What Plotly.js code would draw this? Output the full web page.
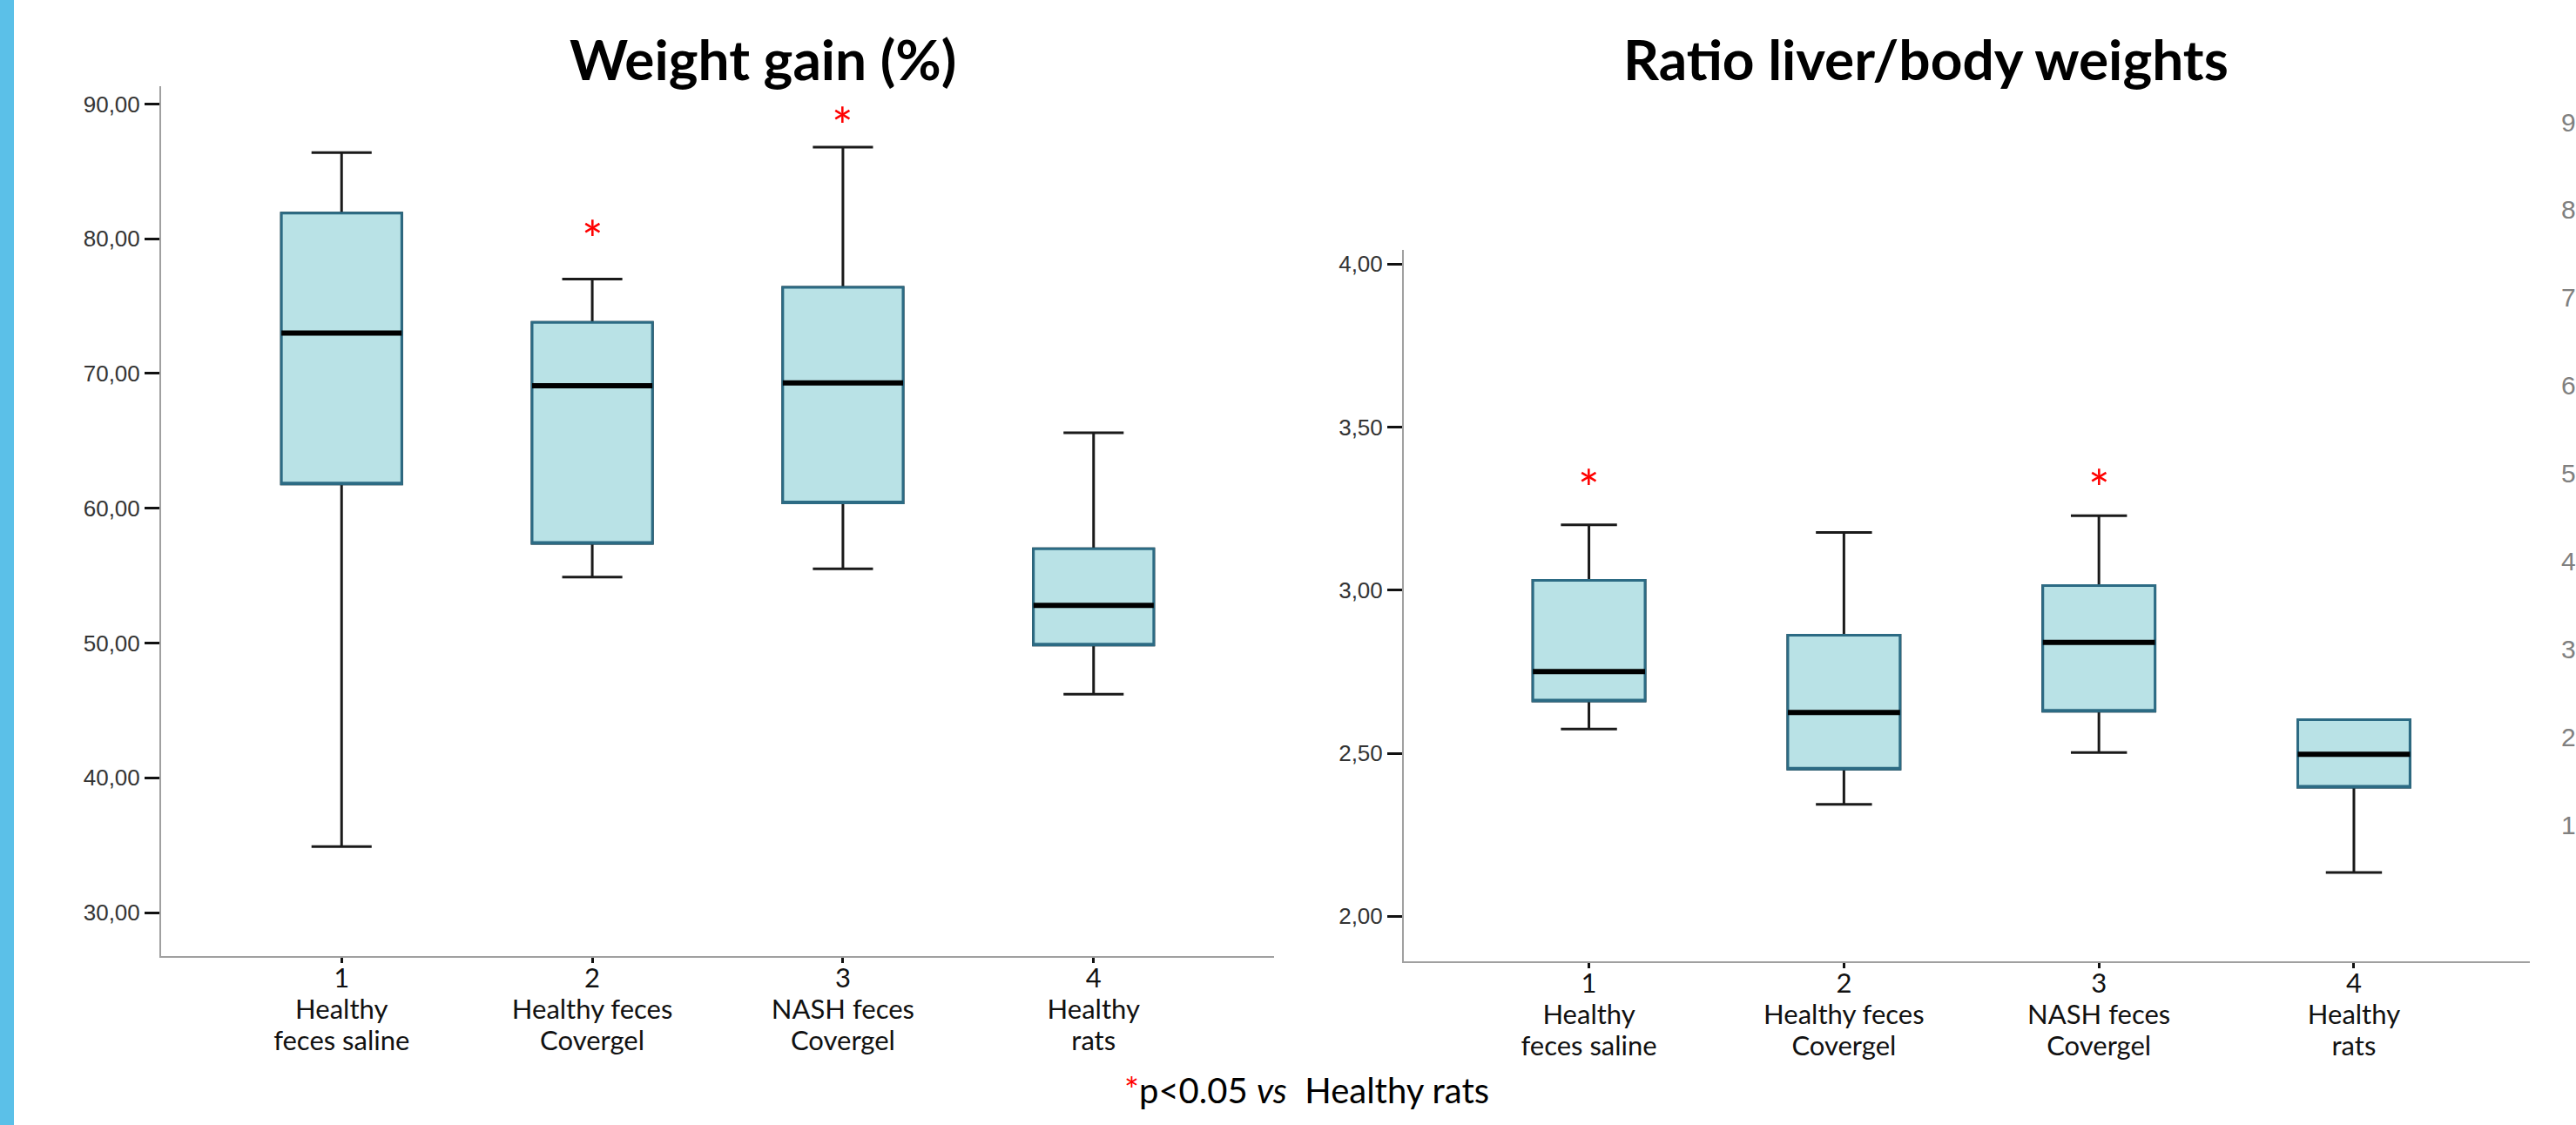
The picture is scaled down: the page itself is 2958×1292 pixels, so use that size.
<!DOCTYPE html>
<html>
<head>
<meta charset="utf-8">
<script src="https://cdn.plot.ly/plotly-3.0.1.min.js"></script>
<style>
  html, body { margin: 0; padding: 0; background: #ffffff; }
  #chart { width: 2958px; height: 1292px; }
</style>
</head>
<body>
<div id="chart"></div>
<script>
// ---------- data ----------
var groupPositions = [1, 2, 3, 4];
var tickNumbers = ['1', '2', '3', '4'];
var groupLine1 = ['Healthy', 'Healthy feces', 'NASH feces', 'Healthy'];
var groupLine2 = ['feces saline', 'Covergel', 'Covergel', 'rats'];

// Weight gain (%)
var wgLower  = [34.9, 54.9, 55.5, 46.2];
var wgQ1     = [61.8, 57.4, 60.4, 49.85];
var wgMedian = [73.0, 69.1, 69.3, 52.8];
var wgQ3     = [81.9, 73.8, 76.4, 57.0];
var wgUpper  = [86.4, 77.0, 86.8, 65.6];
var wgStarX  = [2, 3];
var wgStarY  = [80.8, 89.2];
var wgTickVals = [30, 40, 50, 60, 70, 80, 90];
var wgTickText = ['30,00', '40,00', '50,00', '60,00', '70,00', '80,00', '90,00'];

// Ratio liver/body weights
var rLower  = [2.574, 2.343, 2.502, 2.134];
var rQ1     = [2.66, 2.451, 2.629, 2.396];
var rMedian = [2.75, 2.625, 2.84, 2.497];
var rQ3     = [3.03, 2.862, 3.014, 2.603];
var rUpper  = [3.20, 3.177, 3.228, 2.603];
var rStarX  = [1, 3];
var rStarY  = [3.347, 3.347];
var rTickVals = [2.0, 2.5, 3.0, 3.5, 4.0];
var rTickText = ['2,00', '2,50', '3,00', '3,50', '4,00'];

// cut-off axis of a third panel at the right edge
var thirdTickVals = [1, 2, 3, 4, 5, 6, 7, 8, 9];
var thirdTickText = ['1', '2', '3', '4', '5', '6', '7', '8', '9'];

// ---------- styling ----------
var FILL = '#B9E2E6';
var OUTLINE = '#2C6B84';
var DARK = '#1a1a1a';
var LABEL_SPAN = '<span style="font-size:31px">';
var STAR_SIZE = 58;

var catText = groupPositions.map(function (p, i) {
  return LABEL_SPAN + tickNumbers[i] + '</span><br>' +
         LABEL_SPAN + groupLine1[i] + '</span><br>' +
         LABEL_SPAN + groupLine2[i] + '</span>';
});

function boxSet(xa, ya, lower, q1, med, q3, upper, w) {
  var common = { type: 'box', x: groupPositions, xaxis: xa, yaxis: ya, width: w,
                 boxpoints: false, hoverinfo: 'skip', showlegend: false };
  var whiskers = Object.assign({}, common, {
    q1: q1, median: med, q3: q3, lowerfence: lower, upperfence: upper,
    whiskerwidth: 0.5, fillcolor: 'rgba(0,0,0,0)', line: { color: DARK, width: 3 }
  });
  var box = Object.assign({}, common, {
    q1: q1, median: q1, q3: q3, lowerfence: q1, upperfence: q3,
    whiskerwidth: 0, fillcolor: FILL, line: { color: OUTLINE, width: 3 }
  });
  var medLine = Object.assign({}, common, {
    q1: med, median: med, q3: med, lowerfence: med, upperfence: med,
    whiskerwidth: 0, fillcolor: 'rgba(0,0,0,0)', line: { color: '#000000', width: 6 }
  });
  return [whiskers, box, medLine];
}

function starNotes(xr, yr, xs, ys) {
  return xs.map(function (x, i) {
    return { xref: xr, yref: yr, x: x, y: ys[i], text: '*', showarrow: false,
             xanchor: 'center', yanchor: 'middle', yshift: -0.2 * STAR_SIZE,
             font: { family: 'Lato, sans-serif', size: STAR_SIZE, color: '#ff0000' } };
  });
}

var data = []
  .concat(boxSet('x', 'y', wgLower, wgQ1, wgMedian, wgQ3, wgUpper, 0.48))
  .concat(boxSet('x2', 'y2', rLower, rQ1, rMedian, rQ3, rUpper, 0.44))
  .concat([{ type: 'scatter', x: [], y: [], xaxis: 'x3', yaxis: 'y3', showlegend: false, hoverinfo: 'skip' }]);

var W = 2958, H = 1292;
function px(x) { return x / W; }
function py(y) { return (H - y) / H; }

var xCommon = {
  tickvals: groupPositions, ticktext: catText,
  showline: true, linecolor: '#a0a0a0', linewidth: 2, mirror: false,
  ticks: 'outside', ticklen: 6, tickwidth: 3, tickcolor: '#111111',
  ticklabelstandoff: -6,
  showgrid: false, zeroline: false, fixedrange: true,
  tickfont: { family: 'Lato, sans-serif', size: 28, color: '#111111' }
};
var yCommon = {
  showline: true, linecolor: '#a0a0a0', linewidth: 2,
  ticks: 'outside', ticklen: 17, tickwidth: 3, tickcolor: '#111111',
  showgrid: false, zeroline: false, fixedrange: true,
  tickfont: { family: '"Liberation Sans", Arial, sans-serif', size: 26, color: '#333333' }
};

var layout = {
  width: W, height: H,
  margin: { l: 0, r: 0, t: 0, b: 0, pad: 0 },
  paper_bgcolor: '#ffffff', plot_bgcolor: 'rgba(0,0,0,0)',
  showlegend: false,
  boxmode: 'overlay',
  xaxis: Object.assign({}, xCommon, { domain: [px(185), px(1463)], range: [0.28, 4.72], anchor: 'y' }),
  yaxis: Object.assign({}, yCommon, { domain: [py(1098), py(99)], range: [26.77, 91.32], anchor: 'x',
                                      tickvals: wgTickVals, ticktext: wgTickText }),
  xaxis2: Object.assign({}, xCommon, { domain: [px(1612), px(2905)], range: [0.274, 4.69], anchor: 'y2' }),
  yaxis2: Object.assign({}, yCommon, { domain: [py(1104), py(287)], range: [1.862, 4.043], anchor: 'x2',
                                       tickvals: rTickVals, ticktext: rTickText }),
  xaxis3: { domain: [px(2927), px(2940)], visible: false, anchor: 'y3', fixedrange: true, range: [0, 1] },
  yaxis3: { domain: [py(1000), py(100)], range: [0.485, 9.396], anchor: 'x3', side: 'right',
            showline: false, ticks: '', showgrid: false, zeroline: false, fixedrange: true,
            tickvals: thirdTickVals, ticktext: thirdTickText,
            tickfont: { family: '"Liberation Sans", Arial, sans-serif', size: 30, color: '#808080' } },
  shapes: [
    { type: 'rect', xref: 'paper', yref: 'paper', x0: 0, x1: px(16), y0: 0, y1: 1,
      fillcolor: '#5BC0E8', line: { width: 0 }, layer: 'below' }
  ],
  annotations: [
    { xref: 'paper', yref: 'paper', x: px(876), y: py(67), xanchor: 'center', yanchor: 'middle',
      showarrow: false, text: '<b>Weight gain (%)</b>',
      font: { family: 'Lato, sans-serif', size: 64, color: '#000000' } },
    { xref: 'paper', yref: 'paper', x: px(2211), y: py(67), xanchor: 'center', yanchor: 'middle',
      showarrow: false, text: '<b>Ratio liver/body weights</b>',
      font: { family: 'Lato, sans-serif', size: 64, color: '#000000' } },
    { xref: 'paper', yref: 'paper', x: px(1500), y: py(1252), xanchor: 'center', yanchor: 'middle',
      showarrow: false,
      text: '<span style="color:#ff0000">*</span>p&lt;0.05 <i>vs</i> &nbsp;Healthy rats',
      font: { family: 'Lato, sans-serif', size: 40, color: '#000000' } }
  ].concat(starNotes('x', 'y', wgStarX, wgStarY))
   .concat(starNotes('x2', 'y2', rStarX, rStarY))
};

Plotly.newPlot('chart', data, layout, { staticPlot: true, displayModeBar: false });
</script>
</body>
</html>
